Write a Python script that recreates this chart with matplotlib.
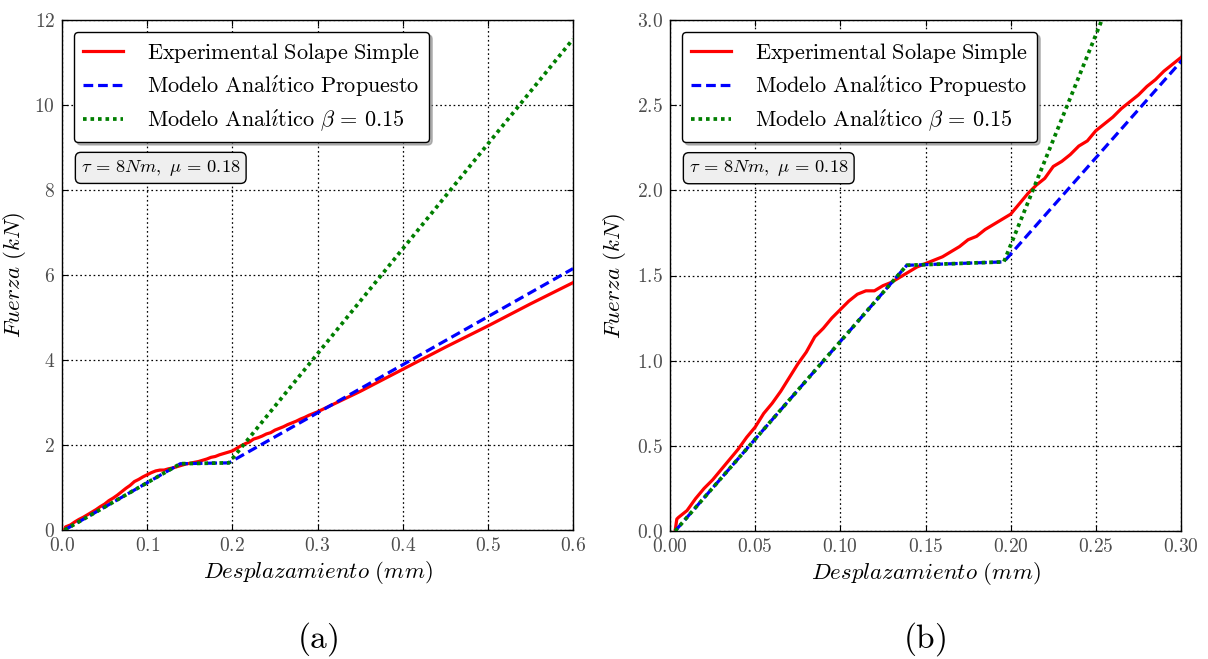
import matplotlib
matplotlib.use("Agg")
import matplotlib.pyplot as plt

plt.rcParams["mathtext.fontset"] = "cm"
plt.rcParams["font.family"] = "serif"
plt.rcParams["font.serif"] = ["cmr10", "DejaVu Serif"]
plt.rcParams["lines.scale_dashes"] = False
plt.rcParams["axes.unicode_minus"] = False

# Experimental load-displacement curve (single-lap joint), mm / kN
disp_exp = [0.003, 0.004, 0.005, 0.010, 0.015, 0.020, 0.025, 0.030, 0.035, 0.040,
            0.045, 0.050, 0.055, 0.060, 0.065, 0.070, 0.075, 0.080, 0.085, 0.090,
            0.095, 0.100, 0.105, 0.110, 0.115, 0.120, 0.125, 0.130, 0.135, 0.140,
            0.145, 0.150, 0.155, 0.160, 0.165, 0.170, 0.175, 0.180, 0.185, 0.190,
            0.195, 0.200, 0.205, 0.210, 0.215, 0.220, 0.225, 0.230, 0.235, 0.240,
            0.245, 0.250, 0.255, 0.260, 0.265, 0.270, 0.275, 0.280, 0.285, 0.290,
            0.295, 0.300, 0.350, 0.400, 0.450, 0.500, 0.550, 0.600]
force_exp = [0.00, 0.07, 0.08, 0.12, 0.19, 0.25, 0.30, 0.36, 0.42, 0.48,
             0.55, 0.61, 0.69, 0.75, 0.82, 0.90, 0.98, 1.05, 1.14, 1.19,
             1.25, 1.30, 1.35, 1.39, 1.41, 1.41, 1.44, 1.46, 1.49, 1.52,
             1.55, 1.57, 1.59, 1.61, 1.64, 1.67, 1.71, 1.73, 1.77, 1.80,
             1.83, 1.86, 1.92, 1.98, 2.03, 2.07, 2.14, 2.17, 2.21, 2.26,
             2.29, 2.35, 2.39, 2.43, 2.48, 2.52, 2.56, 2.61, 2.65, 2.70,
             2.74, 2.78, 3.26, 3.78, 4.30, 4.80, 5.32, 5.82]

# Proposed analytical model
disp_model = [0.003, 0.139, 0.196, 0.600]
force_model = [0.00, 1.56, 1.58, 6.15]

# Analytical model with beta = 0.15
disp_beta = [0.003, 0.139, 0.196, 0.600]
force_beta = [0.00, 1.56, 1.58, 11.55]

label_exp = r"$\mathrm{Experimental\ Solape\ Simple}$"
label_model = r"$\mathrm{Modelo\ Anal\acute{\imath}tico\ Propuesto}$"
label_beta = r"$\mathrm{Modelo\ Anal\acute{\imath}tico}\ \beta\,=\,0.15$"
note_text = r"$\tau\,=\,8Nm,\ \mu\,=\,0.18$"
xlabel_text = r"$Desplazamiento\ (mm)$"
ylabel_text = r"$Fuerza\ (kN)$"

# Panel (a): full range
xlim_a = (0.0, 0.6)
ylim_a = (0.0, 12.0)
xticks_a = [0.0, 0.1, 0.2, 0.3, 0.4, 0.5, 0.6]
xticklabels_a = ["0.0", "0.1", "0.2", "0.3", "0.4", "0.5", "0.6"]
yticks_a = [0, 2, 4, 6, 8, 10, 12]
yticklabels_a = ["0", "2", "4", "6", "8", "10", "12"]

# Panel (b): detail of the initial region
xlim_b = (0.0, 0.30)
ylim_b = (0.0, 3.0)
xticks_b = [0.00, 0.05, 0.10, 0.15, 0.20, 0.25, 0.30]
xticklabels_b = ["0.00", "0.05", "0.10", "0.15", "0.20", "0.25", "0.30"]
yticks_b = [0.0, 0.5, 1.0, 1.5, 2.0, 2.5, 3.0]
yticklabels_b = ["0.0", "0.5", "1.0", "1.5", "2.0", "2.5", "3.0"]

W, H = 1208, 659
fig = plt.figure(figsize=(W / 100, H / 100), dpi=100)
ax_a = fig.add_axes([62 / W, (H - 530) / H, 511 / W, 510 / H])
ax_b = fig.add_axes([670 / W, (H - 531) / H, 511 / W, 511 / H])


def draw_panel(ax, xlim, ylim, xticks, xtl, yticks, ytl, ylab_x):
    ax.plot(disp_exp, force_exp, color="#ff0000", lw=2.3, label=label_exp,
            solid_joinstyle="round", zorder=3)
    ax.plot(disp_model, force_model, color="#0000ff", lw=2.3, dashes=(7, 3.5),
            label=label_model, zorder=4)
    ax.plot(disp_beta, force_beta, color="#007f00", lw=2.7, dashes=(2.6, 2.8),
            label=label_beta, zorder=5)
    ax.set_xlim(*xlim)
    ax.set_ylim(*ylim)
    ax.set_xticks(xticks)
    ax.set_xticklabels(["$" + t + "$" for t in xtl])
    ax.set_yticks(yticks)
    ax.set_yticklabels(["$" + t + "$" for t in ytl])
    ax.tick_params(direction="in", length=4, width=0.8, top=True, right=True,
                   labelsize=14, labelcolor="0.3", pad=5)
    ax.grid(True, color="k", linestyle=(0, (1.2, 2.0)), linewidth=0.9)
    for s in ax.spines.values():
        s.set_linewidth(1.0)
    ax.set_xlabel(xlabel_text, fontsize=16.5, labelpad=3)
    ax.set_ylabel(ylabel_text, fontsize=16.5)
    ax.yaxis.set_label_coords(ylab_x, 0.5)
    leg = ax.legend(loc="upper left", bbox_to_anchor=(12 / 511, 1 - 12 / 510),
                    borderaxespad=0, fontsize=16, handlelength=1.8,
                    handletextpad=1.1, labelspacing=0.4, borderpad=0.4,
                    fancybox=True, shadow={"color": "0.55", "alpha": 0.6},
                    framealpha=1.0, edgecolor="k")
    leg.get_frame().set_linewidth(1.0)
    ax.text(0.037, 0.71, note_text, transform=ax.transAxes, fontsize=13.3,
            ha="left", va="center", zorder=10,
            bbox=dict(boxstyle="round,pad=0.3", fc="#efefef", ec="k", lw=1.0))


draw_panel(ax_a, xlim_a, ylim_a, xticks_a, xticklabels_a, yticks_a, yticklabels_a,
           (28 - 62) / 511)
draw_panel(ax_b, xlim_b, ylim_b, xticks_b, xticklabels_b, yticks_b, yticklabels_b,
           (628 - 670) / 511)

fig.text(318 / W, (H - 648) / H, r"$\mathrm{(a)}$", fontsize=24, ha="center", va="baseline")
fig.text(925 / W, (H - 648) / H, r"$\mathrm{(b)}$", fontsize=24, ha="center", va="baseline")

fig.savefig("out.png", dpi=100, facecolor="white")
